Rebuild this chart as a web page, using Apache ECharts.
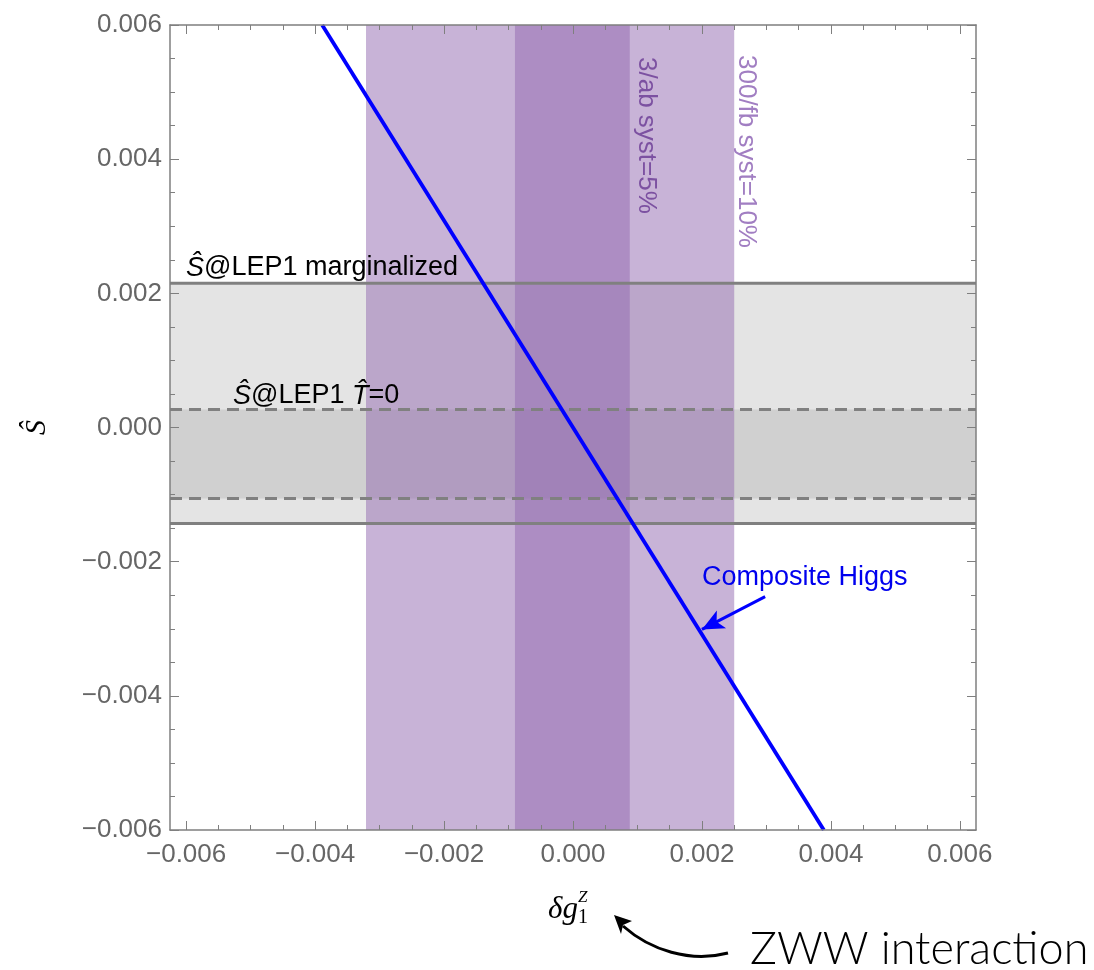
<!DOCTYPE html>
<html>
<head>
<meta charset="utf-8">
<title>Ŝ vs δg1Z</title>
<script src="https://cdn.jsdelivr.net/npm/echarts@6/dist/echarts.min.js"></script>
<style>
  html, body { margin: 0; padding: 0; background: #ffffff; }
  #chart { width: 1094px; height: 970px; }
</style>
</head>
<body>
<div id="chart"></div>
<script>
// Axis ranges
const xRange = [-0.00625, 0.00625];
const yRange = [-0.006, 0.006];

// Tick positions (labelled majors, unlabelled minors)
const majorTicks = [-0.006, -0.004, -0.002, 0, 0.002, 0.004, 0.006];
const minorTicks = [-0.0055, -0.005, -0.0045, -0.0035, -0.003, -0.0025, -0.0015, -0.001, -0.0005,
                    0.0005, 0.001, 0.0015, 0.0025, 0.003, 0.0035, 0.0045, 0.005, 0.0055];

// Ŝ bands from LEP1 (lower, upper)
const lepMarginalized = [-0.00143, 0.00215];
const lepTzero = [-0.00106, 0.00027];

// δg1Z bands (lower, upper)
const band300fb = [-0.00321, 0.00250];
const band3ab = [-0.00090, 0.00088];

// Composite Higgs line: endpoints (δg1Z, Ŝ)
const compositeHiggs = [[-0.00389, 0.006], [0.00389, -0.006]];

// Annotation arrow for the Composite Higgs label (from, to)
const higgsArrow = [[0.00298, -0.00252], [0.00200, -0.00301]];

const SANS = 'Liberation Sans, Arial, Helvetica, sans-serif';
const SERIF = 'Liberation Serif, DejaVu Serif, serif';
const FRAME = '#7f7f7f';

function fmt(v) {
  if (Math.abs(v) < 1e-12) return '0.000';
  return (v < 0 ? '\u2212' : '') + Math.abs(v).toFixed(3);
}

function frameAxis(kind, position, ticks, len, withLine, withLabels) {
  const ax = {
    type: 'value',
    position: position,
    min: kind === 'x' ? xRange[0] : yRange[0],
    max: kind === 'x' ? xRange[1] : yRange[1],
    z: 10,
    silent: true,
    splitLine: { show: false },
    axisLine: { show: withLine, onZero: false, lineStyle: { color: FRAME, width: 1.5 } },
    axisTick: { show: true, inside: true, length: len, customValues: ticks,
                lineStyle: { color: FRAME, width: 1 } },
    axisLabel: { show: false }
  };
  if (withLabels) {
    ax.axisLabel = {
      show: true,
      customValues: ticks,
      formatter: fmt,
      color: '#666666',
      fontFamily: SANS,
      fontSize: 26,
      margin: kind === 'x' ? 12 : 8
    };
  }
  return ax;
}

// horizontal boundary across the full δg1Z range
function hLine(name, value, dash, z) {
  return {
    name: name,
    type: 'line',
    data: [[xRange[0], value], [xRange[1], value]],
    z: z,
    silent: true,
    symbol: 'none',
    lineStyle: { color: '#808080', width: 3, type: dash }
  };
}

function band(name, area, color, z) {
  return {
    name: name,
    type: 'line',
    data: [],
    z: z,
    silent: true,
    markArea: {
      silent: true,
      itemStyle: { color: color },
      label: { show: false },
      data: [area]
    }
  };
}

const chart = echarts.init(document.getElementById('chart'), null, { renderer: 'canvas' });

const yMain = frameAxis('y', 'left', majorTicks, 9, true, true);
yMain.name = 'Ŝ';
yMain.nameLocation = 'middle';
yMain.nameRotate = 90;
yMain.nameGap = 118;
yMain.nameTextStyle = { fontFamily: SERIF, fontStyle: 'italic', fontSize: 30, color: '#000000' };

const option = {
  animation: false,
  backgroundColor: '#ffffff',
  grid: { left: 170, top: 25, width: 806, height: 805, containLabel: false },
  xAxis: [
    frameAxis('x', 'bottom', majorTicks, 9, true, true),
    frameAxis('x', 'bottom', minorTicks, 5, false, false),
    frameAxis('x', 'top', majorTicks, 9, true, false),
    frameAxis('x', 'top', minorTicks, 5, false, false)
  ],
  yAxis: [
    yMain,
    frameAxis('y', 'left', minorTicks, 5, false, false),
    frameAxis('y', 'right', majorTicks, 9, true, false),
    frameAxis('y', 'right', minorTicks, 5, false, false)
  ],
  series: [
    band('Ŝ@LEP1 marginalized', [{ yAxis: lepMarginalized[1] }, { yAxis: lepMarginalized[0] }], '#e4e4e4', 1),
    band('Ŝ@LEP1 T̂=0', [{ yAxis: lepTzero[1] }, { yAxis: lepTzero[0] }], '#d0d0d0', 1.5),
    hLine('marginalized upper', lepMarginalized[1], 'solid', 2),
    hLine('marginalized lower', lepMarginalized[0], 'solid', 2),
    hLine('T=0 upper', lepTzero[1], [12, 7], 2),
    hLine('T=0 lower', lepTzero[0], [12, 7], 2),
    {
      name: 'Composite Higgs',
      type: 'line',
      data: compositeHiggs,
      z: 3,
      silent: true,
      symbol: 'none',
      clip: true,
      lineStyle: { color: '#0000ff', width: 3.8 }
    },
    band('300/fb syst=10%', [{ xAxis: band300fb[0] }, { xAxis: band300fb[1] }], 'rgba(145,103,175,0.5)', 4),
    band('3/ab syst=5%', [{ xAxis: band3ab[0] }, { xAxis: band3ab[1] }], 'rgba(145,103,175,0.5)', 4),
    {
      name: 'Composite Higgs arrow',
      type: 'line',
      data: [],
      z: 5,
      silent: true,
      markLine: {
        silent: true,
        symbol: ['none', 'arrow'],
        symbolSize: [15, 22],
        label: { show: false },
        lineStyle: { color: '#0000ff', width: 3, type: 'solid' },
        itemStyle: { color: '#0000ff' },
        data: [[{ coord: higgsArrow[0] }, { coord: higgsArrow[1] }]]
      }
    }
  ],
  graphic: [
    // band labels
    {
      type: 'text', x: 186, y: 268, z: 20, silent: true,
      style: {
        text: '{i|Ŝ}@LEP1 marginalized',
        fill: '#000000', fontFamily: SANS, fontSize: 27, verticalAlign: 'middle', align: 'left',
        rich: { i: { fontStyle: 'italic', fontFamily: SANS, fontSize: 27, fill: '#000000' } }
      }
    },
    {
      type: 'text', x: 233, y: 396, z: 20, silent: true,
      style: {
        text: '{i|Ŝ}@LEP1 {i|T\u0302}=0',
        fill: '#000000', fontFamily: SANS, fontSize: 27, verticalAlign: 'middle', align: 'left',
        rich: { i: { fontStyle: 'italic', fontFamily: SANS, fontSize: 27, fill: '#000000' } }
      }
    },
    {
      type: 'text', x: 646, y: 57, rotation: -Math.PI / 2, z: 20, silent: true,
      style: { text: '3/ab syst=5%', fill: '#7c51a1', fontFamily: SANS, fontSize: 26,
               align: 'left', verticalAlign: 'middle' }
    },
    {
      type: 'text', x: 746, y: 55, rotation: -Math.PI / 2, z: 20, silent: true,
      style: { text: '300/fb syst=10%', fill: '#a17ec2', fontFamily: SANS, fontSize: 26,
               align: 'left', verticalAlign: 'middle' }
    },
    {
      type: 'text', x: 702, y: 578, z: 20, silent: true,
      style: { text: 'Composite Higgs', fill: '#0000ee', fontFamily: SANS, fontSize: 27,
               align: 'left', verticalAlign: 'middle' }
    },
    // x-axis title δg1^Z
    {
      type: 'text', x: 548, y: 910, z: 20, silent: true,
      style: { text: 'δg', fill: '#000000', fontFamily: SERIF, fontStyle: 'italic', fontSize: 31,
               align: 'left', verticalAlign: 'middle' }
    },
    {
      type: 'text', x: 578, y: 898, z: 20, silent: true,
      style: { text: 'Z', fill: '#000000', fontFamily: SERIF, fontStyle: 'italic', fontSize: 17,
               align: 'left', verticalAlign: 'middle' }
    },
    {
      type: 'text', x: 578, y: 918, z: 20, silent: true,
      style: { text: '1', fill: '#000000', fontFamily: SERIF, fontSize: 20,
               align: 'left', verticalAlign: 'middle' }
    },
    // ZWW callout
    {
      type: 'text', x: 750, y: 949, z: 20, silent: true,
      style: { text: 'ZWW interaction', fill: '#000000', fontFamily: 'Lato, Open Sans, sans-serif',
               fontWeight: 300, fontSize: 45, align: 'left', verticalAlign: 'middle' }
    },
    {
      type: 'bezierCurve', z: 20, silent: true,
      shape: { x1: 728, y1: 953, cpx1: 690, cpy1: 963, cpx2: 650, cpy2: 950, x2: 623, y2: 926 },
      style: { stroke: '#000000', lineWidth: 3, fill: null }
    },
    {
      type: 'polygon', z: 20, silent: true,
      shape: { points: [[614, 915], [632, 921], [623, 925], [621, 934]] },
      style: { fill: '#000000', stroke: null }
    }
  ]
};

chart.setOption(option);
</script>
</body>
</html>
